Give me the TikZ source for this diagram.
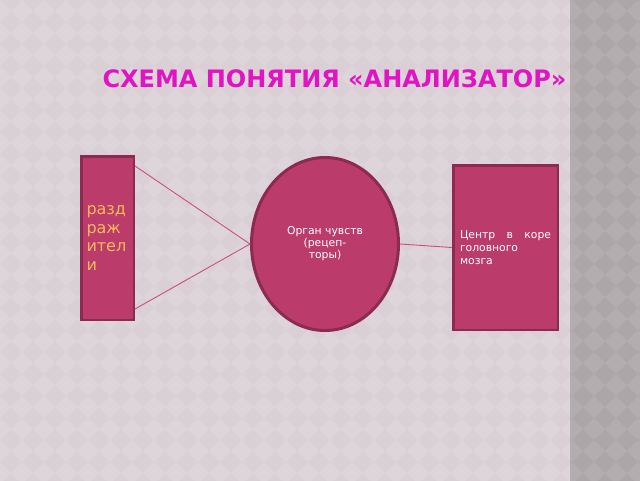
\documentclass[tikz,border=0pt]{standalone}
\usepackage{fontspec}
\setmainfont{DejaVu Sans}
\usetikzlibrary{shapes.geometric}

\definecolor{bgpink}{RGB}{217,207,213}
\definecolor{bglight}{RGB}{222,213,219}
\definecolor{stripgrey}{RGB}{173,166,169}
\definecolor{striplight}{RGB}{180,173,176}
\definecolor{boxred}{RGB}{187,59,106}
\definecolor{rimred}{RGB}{140,42,82}
\definecolor{linkred}{RGB}{200,80,125}
\definecolor{stimtext}{RGB}{246,186,90}
\definecolor{titlemag}{RGB}{225,20,195}

\tikzset{
  box/.style={draw=rimred,line width=2.5pt,fill=boxred,inner sep=0pt},
  link/.style={draw=linkred,line width=0.9pt},
  tile/.style={fill=#1}
}

\begin{document}
\begin{tikzpicture}[x=1pt,y=-1pt]
\useasboundingbox (0,0) rectangle (640,480);

%BACKGROUND
\fill[bgpink] (-1,-1) rectangle (641,481);
\foreach \i in {0,...,29}
  \foreach \j in {-1,...,22}
    \fill[tile=bglight] (22*\i,22*\j) -- ++(11,11) -- ++(-11,11) -- ++(-11,-11) -- cycle;
\begin{scope}
\clip (570,-1) rectangle (641,481);
\fill[stripgrey] (570,-1) rectangle (641,481);
\foreach \i in {25,...,30}
  \foreach \j in {-1,...,22}
    \fill[tile=striplight] (22*\i,22*\j) -- ++(11,11) -- ++(-11,11) -- ++(-11,-11) -- cycle;
\end{scope}

\node[anchor=base,text=titlemag,font=\bfseries\fontsize{24}{28}\selectfont] (title) at (334.5,87.5) {СХЕМА ПОНЯТИЯ «АНАЛИЗАТОР»};

\node[box,minimum width=52.5,minimum height=163.5,text width=42,align=left,text=stimtext,font=\fontsize{16}{18.5}\selectfont] (stim) at (107.5,238) {разд\\раж\\ител\\и};
\node[box,ellipse,line width=3pt,minimum width=147,minimum height=173,align=center,text=white,font=\fontsize{10.8}{12}\selectfont] (organ) at (325,244) {Орган чувств\\(рецеп-\\торы)};
\node[box,minimum width=104.5,minimum height=164.5,text width=91,align=left,text=white,font=\fontsize{10.8}{13}\selectfont] (centre) at (505.5,247.5) {Центр\hfill в\hfill коре\\головного\\мозга};

\draw[link] ([yshift=-11pt]stim.north east) -- (organ.west);
\draw[link] ([yshift=12pt]stim.south east) -- (organ.west);
\draw[link] (organ.east) -- (centre.west);
\end{tikzpicture}
\end{document}
